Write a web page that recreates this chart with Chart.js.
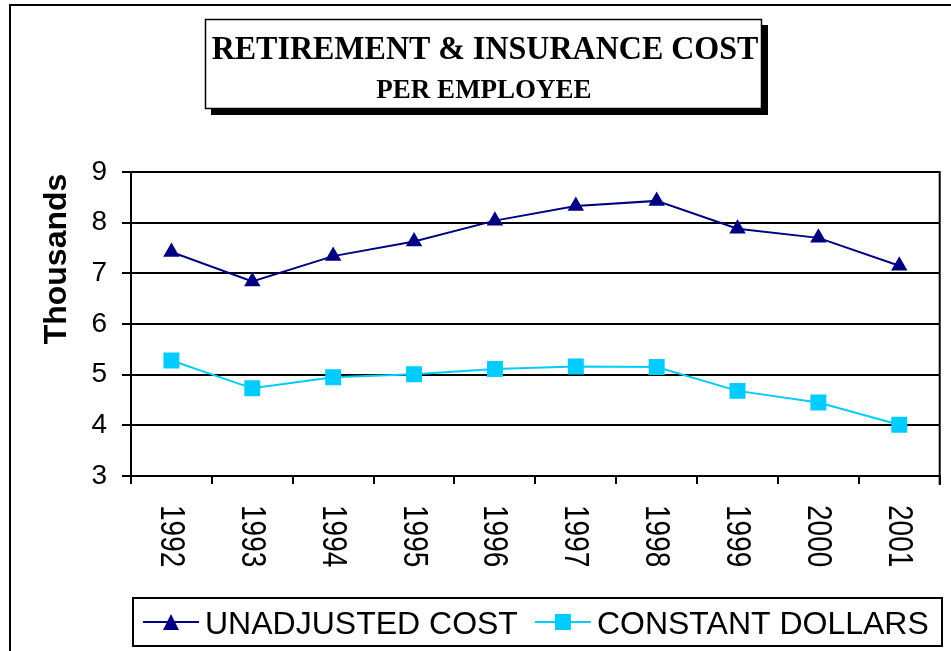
<!DOCTYPE html>
<html lang="en">
<head>
  <meta charset="UTF-8">
  <title>Retirement & Insurance Cost per Employee</title>
  <script src="https://cdn.jsdelivr.net/npm/chart.js"></script>
  <style>
    body { margin: 0; padding: 0; background: #ffffff; }
    #wrap { width: 951px; height: 651px; position: relative; }
  </style>
</head>
<body>
  <div id="wrap"><canvas id="chart"></canvas></div>
  <script>
    const years = ['1992', '1993', '1994', '1995', '1996', '1997', '1998', '1999', '2000', '2001'];
    const unadjusted = [7.42, 6.84, 7.34, 7.63, 8.04, 8.33, 8.43, 7.88, 7.70, 7.15];
    const constantDollars = [5.28, 4.73, 4.95, 5.01, 5.11, 5.16, 5.15, 4.68, 4.45, 4.01];
    const seriesNames = ['UNADJUSTED COST', 'CONSTANT DOLLARS'];
    const titleLines = ['RETIREMENT & INSURANCE COST', 'PER EMPLOYEE'];

    const NAVY = '#000080';
    const CYAN = '#00CCFF';

    // outer frame, title box with drop shadow
    const backdrop = {
      id: 'backdrop',
      beforeDraw(chart) {
        const ctx = chart.ctx;
        ctx.save();
        ctx.fillStyle = '#fff';
        ctx.fillRect(0, 0, chart.width, chart.height);
        ctx.strokeStyle = '#000';
        ctx.lineWidth = 2;
        ctx.strokeRect(10, 5, 1000, 700);

        ctx.fillStyle = '#000';
        ctx.fillRect(211, 25, 557, 90);
        ctx.fillStyle = '#fff';
        ctx.fillRect(205, 19, 557, 90);
        ctx.lineWidth = 1.5;
        ctx.strokeRect(205.5, 19.5, 556, 89);

        ctx.fillStyle = '#000';
        ctx.textAlign = 'center';
        ctx.textBaseline = 'alphabetic';
        ctx.font = 'bold 32px "Liberation Serif", "Times New Roman", serif';
        ctx.save();
        ctx.translate(485, 59);
        ctx.scale(1, 1.08);
        ctx.fillText(titleLines[0], 0, 0);
        ctx.restore();
        ctx.font = 'bold 27px "Liberation Serif", "Times New Roman", serif';
        ctx.fillText(titleLines[1], 484, 98);
        ctx.restore();
      }
    };

    // plot frame, rotated year labels, axis title, boxed legend
    const extras = {
      id: 'extras',
      afterDraw(chart) {
        const ctx = chart.ctx;
        const area = chart.chartArea;
        const xs = chart.scales.x;
        ctx.save();
        ctx.strokeStyle = '#000';
        ctx.lineWidth = 2;
        ctx.beginPath();
        ctx.moveTo(area.right, area.top - 1);
        ctx.lineTo(area.right, area.bottom + 9);
        ctx.stroke();

        ctx.fillStyle = '#000';
        ctx.font = '28px "Liberation Sans", Arial, sans-serif';
        ctx.textAlign = 'left';
        ctx.textBaseline = 'alphabetic';
        years.forEach((y, i) => {
          const px = xs.getPixelForValue(i);
          ctx.save();
          ctx.translate(px - 10.5, area.bottom + 29);
          ctx.rotate(Math.PI / 2);
          ctx.scale(1, 1.25);
          ctx.fillText(y, 0, 0);
          ctx.restore();
        });

        ctx.save();
        ctx.translate(66, 259);
        ctx.rotate(-Math.PI / 2);
        ctx.textAlign = 'center';
        ctx.font = 'bold 32px "Liberation Sans", Arial, sans-serif';
        ctx.fillText('Thousands', 0, 0);
        ctx.restore();

        // legend
        ctx.lineWidth = 2;
        ctx.strokeRect(133, 598, 809, 48);
        ctx.font = '32px "Liberation Sans", Arial, sans-serif';
        ctx.textAlign = 'left';
        const midY = 622;
        let x = 143;
        const styles = [
          { color: NAVY, marker: 'tri' },
          { color: CYAN, marker: 'sq' }
        ];
        seriesNames.forEach((name, i) => {
          const st = styles[i];
          ctx.strokeStyle = st.color;
          ctx.fillStyle = st.color;
          ctx.lineWidth = 2;
          ctx.beginPath();
          ctx.moveTo(x, midY);
          ctx.lineTo(x + 56, midY);
          ctx.stroke();
          const cx = x + 28;
          ctx.beginPath();
          if (st.marker === 'tri') {
            ctx.moveTo(cx, midY - 8);
            ctx.lineTo(cx + 8, midY + 8);
            ctx.lineTo(cx - 8, midY + 8);
          } else {
            ctx.rect(cx - 8, midY - 8, 16, 16);
          }
          ctx.fill();
          ctx.fillStyle = '#000';
          ctx.fillText(name, x + 62, 634);
          x += 62 + ctx.measureText(name).width + 17;
        });
        ctx.restore();
      }
    };

    new Chart(document.getElementById('chart'), {
      type: 'line',
      data: {
        labels: years,
        datasets: [
          {
            label: seriesNames[0],
            data: unadjusted,
            borderColor: NAVY,
            backgroundColor: NAVY,
            borderWidth: 2,
            pointStyle: 'triangle',
            pointRadius: 9.5,
            pointBorderWidth: 0,
            tension: 0
          },
          {
            label: seriesNames[1],
            data: constantDollars,
            borderColor: CYAN,
            backgroundColor: CYAN,
            borderWidth: 2,
            pointStyle: 'rect',
            pointRadius: 11.3,
            pointBorderWidth: 0,
            tension: 0
          }
        ]
      },
      options: {
        responsive: true,
        maintainAspectRatio: false,
        animation: false,
        layout: { padding: { top: 172, right: 9, left: 0, bottom: 0 } },
        plugins: {
          legend: { display: false },
          title: { display: false },
          tooltip: { enabled: false }
        },
        scales: {
          x: {
            type: 'category',
            offset: true,
            grid: {
              display: true,
              drawOnChartArea: false,
              drawTicks: true,
              tickLength: 8,
              offset: true,
              color: '#000',
              lineWidth: 2
            },
            border: { display: true, color: '#000', width: 2 },
            ticks: { display: false },
            afterFit: s => { s.height = 175; }
          },
          y: {
            min: 3,
            max: 9,
            ticks: {
              stepSize: 1,
              color: '#000',
              padding: 15,
              font: { family: '"Liberation Sans", Arial, sans-serif', size: 28 }
            },
            grid: {
              color: '#000',
              lineWidth: 2,
              drawTicks: true,
              tickLength: 9
            },
            border: { display: true, color: '#000', width: 2 },
            afterFit: s => { s.width = 131; }
          }
        }
      },
      plugins: [backdrop, extras]
    });
  </script>
</body>
</html>
